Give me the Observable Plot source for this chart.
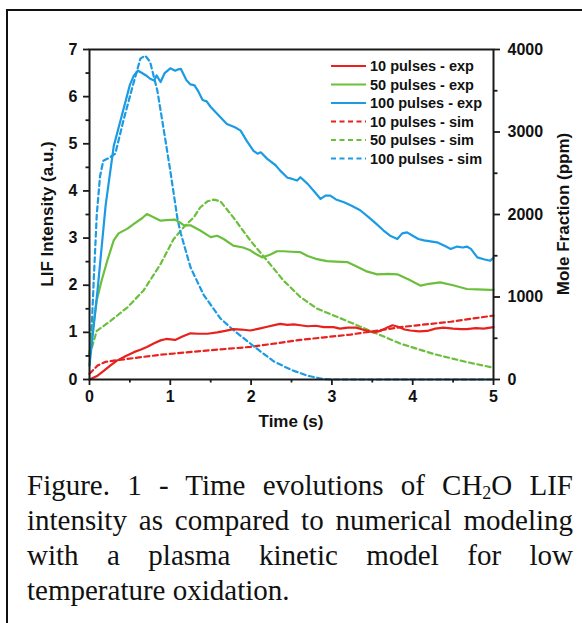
<!DOCTYPE html>
<html>
<head>
<meta charset="utf-8">
<script src="https://cdn.jsdelivr.net/npm/d3@7"></script>
<script src="https://cdn.jsdelivr.net/npm/@observablehq/plot@0.6"></script>
<style>
  html, body { margin: 0; padding: 0; background: #fff; overflow: hidden; }
  #wrap { position: relative; width: 582px; height: 623px; }
  #frame { position: absolute; left: 6px; top: 9px; width: 700px; height: 700px; border: 2px solid #111; box-sizing: border-box; }
  #chart { position: absolute; left: 0; top: 0; }
  #caption {
    position: absolute; left: 27px; top: 468px; width: 546px;
    font-family: "Liberation Serif", "Times New Roman", serif; font-size: 29px; line-height: 35px;
    text-align: justify; color: #111;
  }
  #caption sub { font-size: 0.62em; vertical-align: -0.25em; line-height: 0; }
</style>
</head>
<body>
<div id="wrap">
  <div id="frame"></div>
  <div id="chart"></div>
  <div id="caption">Figure. 1 - Time evolutions of CH<sub>2</sub>O LIF intensity as compared to numerical modeling with a plasma kinetic model for low temperature oxidation.</div>
</div>
<script>
// ---- data: [time (s), LIF intensity (a.u.)] for experiments ----
const exp10 = [[0,0.0],[0.1,0.08],[0.18,0.19],[0.26,0.3],[0.34,0.4],[0.45,0.5],[0.55,0.58],[0.63,0.63],[0.71,0.69],[0.8,0.77],[0.88,0.83],[0.95,0.86],[1.06,0.84],[1.15,0.91],[1.25,0.98],[1.35,0.97],[1.46,0.97],[1.58,1.0],[1.68,1.03],[1.78,1.07],[1.88,1.06],[1.99,1.04],[2.1,1.08],[2.2,1.12],[2.3,1.16],[2.36,1.18],[2.45,1.16],[2.53,1.17],[2.61,1.15],[2.7,1.13],[2.8,1.14],[2.9,1.11],[3.02,1.11],[3.1,1.08],[3.2,1.1],[3.3,1.1],[3.4,1.05],[3.52,1.0],[3.6,1.03],[3.68,1.1],[3.75,1.15],[3.82,1.12],[3.9,1.06],[3.97,1.04],[4.08,1.02],[4.18,1.03],[4.28,1.08],[4.38,1.1],[4.5,1.08],[4.6,1.07],[4.67,1.07],[4.78,1.09],[4.88,1.08],[5.0,1.11]];
const exp50 = [[0,0.55],[0.09,1.68],[0.15,2.1],[0.22,2.52],[0.3,2.95],[0.36,3.1],[0.47,3.2],[0.55,3.3],[0.65,3.42],[0.71,3.51],[0.78,3.45],[0.88,3.37],[0.95,3.38],[1.06,3.39],[1.12,3.33],[1.17,3.27],[1.25,3.27],[1.37,3.16],[1.5,3.02],[1.58,3.05],[1.66,2.98],[1.78,2.84],[1.9,2.8],[1.99,2.74],[2.07,2.65],[2.14,2.59],[2.24,2.65],[2.32,2.72],[2.4,2.72],[2.5,2.71],[2.61,2.7],[2.7,2.62],[2.8,2.56],[2.94,2.51],[3.05,2.5],[3.19,2.49],[3.3,2.4],[3.42,2.3],[3.56,2.23],[3.7,2.24],[3.81,2.23],[3.95,2.12],[4.1,1.99],[4.2,2.03],[4.34,2.06],[4.5,2.0],[4.67,1.92],[4.8,1.91],[4.96,1.9],[5.0,1.9]];
const exp100 = [[0,0.3],[0.1,1.9],[0.2,3.7],[0.3,4.95],[0.4,5.6],[0.5,6.25],[0.55,6.45],[0.6,6.55],[0.65,6.5],[0.7,6.45],[0.75,6.38],[0.8,6.34],[0.83,6.45],[0.88,6.31],[0.93,6.5],[1.0,6.6],[1.06,6.55],[1.1,6.58],[1.13,6.59],[1.2,6.35],[1.25,6.26],[1.3,6.24],[1.35,6.1],[1.4,5.93],[1.45,5.9],[1.5,5.78],[1.6,5.6],[1.7,5.42],[1.8,5.35],[1.87,5.28],[1.95,5.05],[2.03,4.85],[2.08,4.79],[2.12,4.82],[2.2,4.68],[2.3,4.55],[2.36,4.43],[2.45,4.28],[2.5,4.26],[2.57,4.22],[2.61,4.29],[2.7,4.15],[2.8,3.95],[2.86,3.83],[2.92,3.9],[2.98,3.9],[3.05,3.82],[3.15,3.76],[3.25,3.68],[3.35,3.59],[3.45,3.45],[3.55,3.3],[3.64,3.16],[3.72,3.05],[3.81,2.98],[3.87,3.1],[3.93,3.12],[4.0,3.05],[4.07,2.98],[4.14,2.95],[4.22,2.93],[4.3,2.91],[4.4,2.83],[4.47,2.77],[4.55,2.82],[4.62,2.8],[4.67,2.82],[4.72,2.77],[4.8,2.59],[4.88,2.55],[4.96,2.52],[5.0,2.58]];

// ---- data: [time (s), mole fraction (ppm)] for simulations ----
const sim10 = [[0,70],[0.1,170],[0.2,215],[0.47,250],[0.88,300],[1.5,355],[1.99,395],[2.61,480],[3.23,545],[3.85,635],[4.47,700],[5.0,775]];
const sim50 = [[0,290],[0.09,590],[0.26,710],[0.47,875],[0.67,1080],[0.88,1400],[1.04,1700],[1.17,1850],[1.29,1965],[1.37,2085],[1.46,2160],[1.54,2180],[1.62,2160],[1.78,1965],[1.99,1685],[2.2,1440],[2.4,1200],[2.61,1000],[2.82,857],[3.02,777],[3.27,675],[3.52,571],[3.85,434],[4.26,309],[4.67,211],[5.0,143]];
const sim100 = [[0,290],[0.03,690],[0.05,1150],[0.09,2000],[0.13,2460],[0.17,2650],[0.25,2690],[0.32,2740],[0.42,3140],[0.53,3540],[0.63,3890],[0.69,3925],[0.75,3850],[0.84,3500],[0.92,3020],[1.0,2530],[1.09,1940],[1.13,1770],[1.25,1360],[1.41,1030],[1.62,740],[1.78,600],[2.05,390],[2.28,220],[2.5,115],[2.7,45],[2.9,5],[3.0,0],[3.5,0],[4.0,0],[4.5,0],[5.0,0]];

const seriesNames = ["10 pulses - exp","50 pulses - exp","100 pulses - exp","10 pulses - sim","50 pulses - sim","100 pulses - sim"];
const colors = ["#e8211e","#6cbf3c","#1b9be3"];

const xTicks = [0,1,2,3,4,5];
const xMinor = [0.5,1.5,2.5,3.5,4.5];
const yTicks = [0,1,2,3,4,5,6,7];
const yMinor = [0.5,1.5,2.5,3.5,4.5,5.5,6.5];
const ppmTicks = [0,1000,2000,3000,4000];
const ppmMinor = [500,1500,2500,3500];

const yMax = 7, ppmMax = 4000;
const K = yMax / ppmMax; // a.u. per ppm (shared vertical scale)

const ink = "#1a1a1a";
const lineW = 2.2;
const dash = "5,3.5";
const fontSans = "'Liberation Sans', Arial, sans-serif";

const expSeries = [exp10, exp50, exp100];
const simSeries = [sim10, sim50, sim100];

const marks = [];
simSeries.forEach((s, i) => {
  marks.push(Plot.line(s, {x: d => d[0], y: d => d[1] * K, stroke: colors[i], strokeWidth: lineW, strokeDasharray: dash}));
});
expSeries.forEach((s, i) => {
  marks.push(Plot.line(s, {x: d => d[0], y: d => d[1], stroke: colors[i], strokeWidth: lineW}));
});

const chart = Plot.plot({
  width: 582,
  height: 440,
  marginLeft: 89,
  marginRight: 89,
  marginTop: 49,
  marginBottom: 61,
  style: {fontFamily: fontSans, fontSize: "16px", fontWeight: "bold", color: "#111", background: "transparent"},
  x: {domain: [0, 5]},
  y: {domain: [0, yMax]},
  marks: [
    ...marks,
    Plot.frame({stroke: ink, strokeWidth: 2}),
    Plot.axisX(xTicks, {tickSize: 6, tickPadding: 5, strokeWidth: 1.8, stroke: ink, label: null, fill: "#111"}),
    Plot.axisX(xMinor, {tickSize: 3.5, strokeWidth: 1.8, stroke: ink, text: null, label: null}),
    Plot.axisY(yTicks, {tickSize: 6, tickPadding: 6, strokeWidth: 1.8, stroke: ink, label: null, fill: "#111"}),
    Plot.axisY(yMinor, {tickSize: 3.5, strokeWidth: 1.8, stroke: ink, text: null, label: null}),
    Plot.axisY(ppmTicks.map(d => d * K), {anchor: "right", tickSize: 6, tickPadding: 8, strokeWidth: 1.8, stroke: ink, label: null, fill: "#111", tickFormat: d => String(Math.round(d / K))}),
    Plot.axisY(ppmMinor.map(d => d * K), {anchor: "right", tickSize: 3.5, strokeWidth: 1.8, stroke: ink, text: null, label: null})
  ]
});
document.getElementById("chart").appendChild(chart);

// axis titles and legend (layout only)
const svg = d3.select(chart);
const titleStyle = s => s.style("font-family", fontSans).style("font-size", "17px").style("font-weight", "bold").attr("fill", "#111").attr("text-anchor", "middle");
svg.append("text").call(titleStyle).attr("x", 291).attr("y", 427).text("Time (s)");
svg.append("text").call(titleStyle).attr("transform", "translate(53,214) rotate(-90)").text("LIF Intensity (a.u.)");
svg.append("text").call(titleStyle).attr("transform", "translate(569,214) rotate(-90)").text("Mole Fraction (ppm)");

const lg = svg.append("g");
seriesNames.forEach((name, i) => {
  const yy = 66 + i * 18.5;
  lg.append("line").attr("x1", 331).attr("x2", 366).attr("y1", yy).attr("y2", yy)
    .attr("stroke", colors[i % 3]).attr("stroke-width", lineW)
    .attr("stroke-dasharray", i >= 3 ? dash : null);
  lg.append("text").attr("x", 370).attr("y", yy).attr("dy", "0.36em").attr("text-anchor", "start")
    .style("font-family", fontSans).style("font-size", "14.5px").style("font-weight", "bold").attr("fill", "#111")
    .text(name);
});
</script>
</body>
</html>
